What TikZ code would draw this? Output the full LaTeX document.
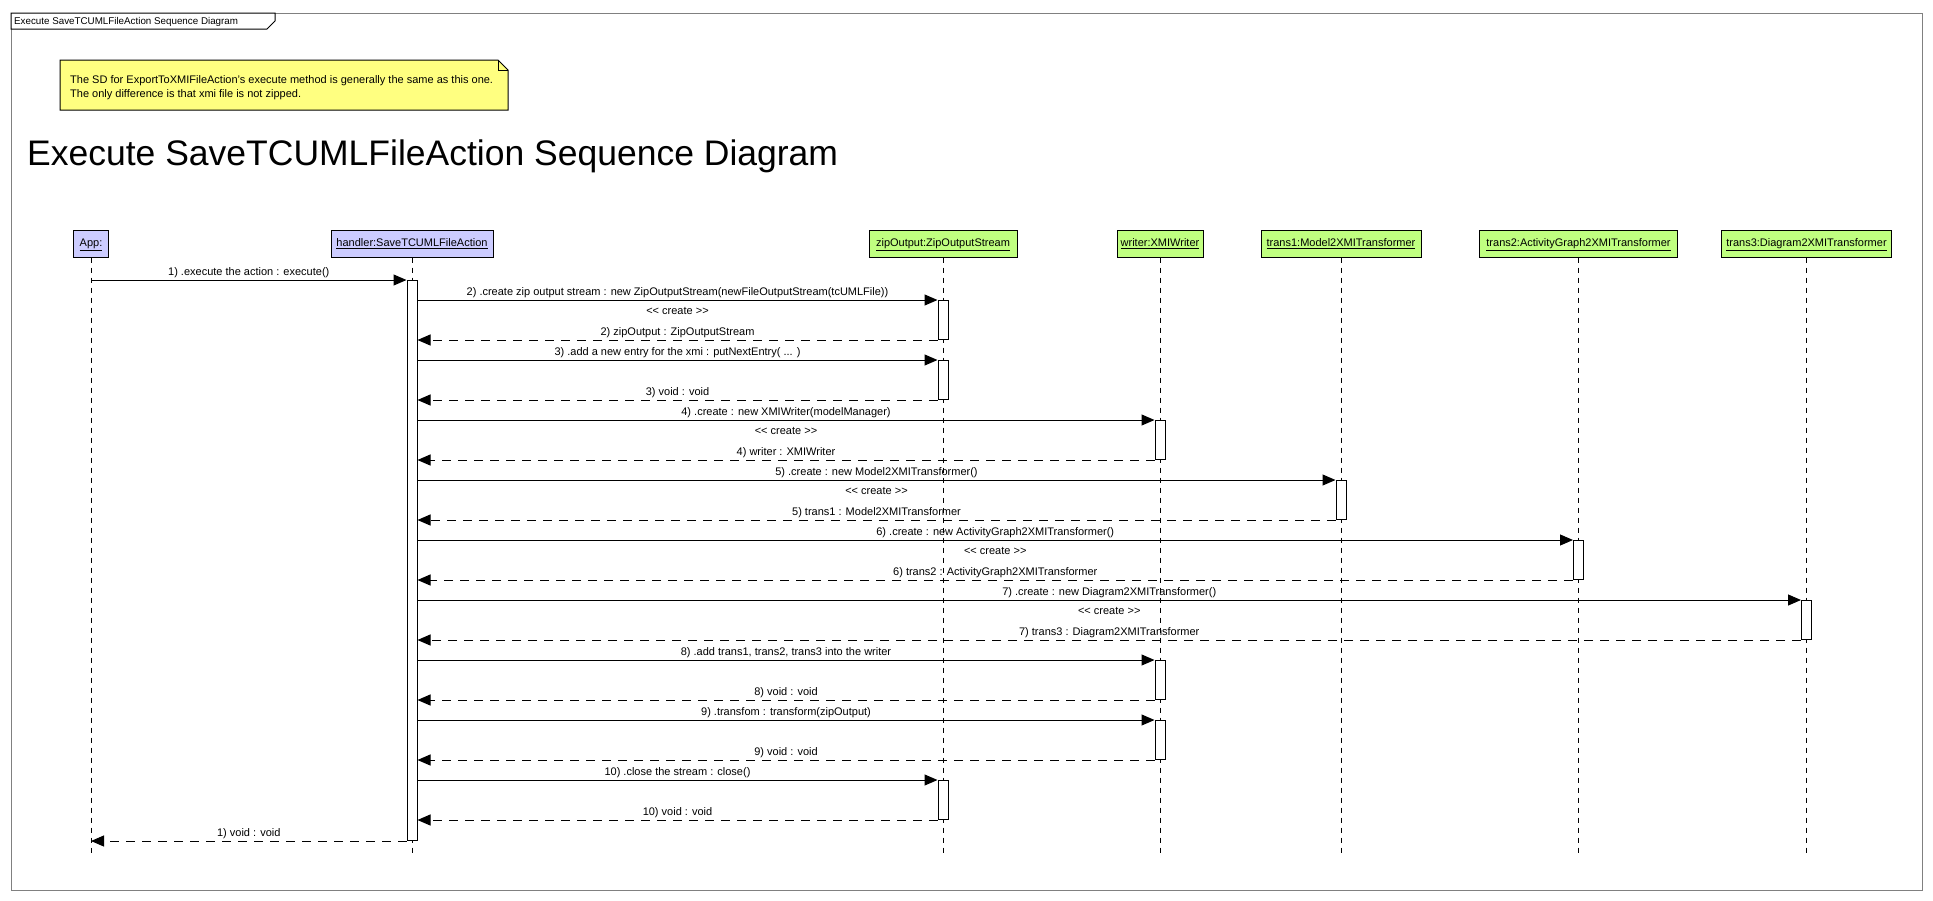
\documentclass[tikz,border=0pt]{standalone}
\usepackage{fontspec}
\setmainfont{Liberation Sans}
\usetikzlibrary{arrows.meta}
\definecolor{lav}{RGB}{204,204,255}
\definecolor{grn}{RGB}{192,255,128}
\definecolor{noteyel}{RGB}{255,255,128}
\definecolor{framegray}{RGB}{128,128,128}
\begin{document}
\begin{tikzpicture}[x=1pt,y=-1pt,
  every node/.style={font=\fontsize{11}{13}\selectfont},
  head/.style={draw, line width=1pt, minimum height=27pt, inner sep=0pt, text height=8pt, text depth=2.2pt},
  lifeline/.style={line width=1pt, dash pattern=on 5pt off 5pt},
  act/.style={draw, fill=white, line width=1pt, minimum width=10pt, inner sep=0pt, anchor=north},
  call/.style={line width=1pt, -{Triangle[length=13pt,width=11pt]}},
  ret/.style={call, dash pattern=on 9pt off 7pt},
  lbl/.style={inner sep=0pt, anchor=base},
  up/.style={lbl, yshift=4.5pt},
  down/.style={lbl, yshift=-14pt},
]
\useasboundingbox (0,0) rectangle (1933,900);
\fill[white] (0,0) rectangle (1933,900);

% frame
\draw[framegray, line width=1pt] (11,13) rectangle (1922,890);
\draw[line width=1pt, fill=white] (11,13) -- (275,13) -- (275,21) -- (267,29) -- (11,29) -- cycle;
\node[anchor=west, inner sep=0pt, font=\fontsize{9.8}{12}\selectfont] (tab) at (14,21.5) {Execute SaveTCUMLFileAction Sequence Diagram};

% note
\draw[line width=1pt, fill=noteyel] (60,60) -- (498,60) -- (508,70) -- (508,110) -- (60,110) -- cycle;
\draw[line width=1pt] (498,60) -- (498,70) -- (508,70);
\node[anchor=base west, inner sep=0pt] (note1) at (70,83) {The SD for ExportToXMIFileAction's execute method is generally the same as this one.};
\node[anchor=base west, inner sep=0pt] (note2) at (70,97) {The only difference is that xmi file is not zipped.};

% title
\node[anchor=base west, inner sep=0pt, font=\fontsize{35.5}{40}\selectfont] (title) at (27,165) {Execute SaveTCUMLFileAction Sequence Diagram};

% lifeline heads
\node[head, fill=lav, minimum width=35pt] (app) at (91,243.5) {\underline{App:}};
\node[head, fill=lav, minimum width=162pt] (handler) at (412,243.5) {\underline{handler:SaveTCUMLFileAction}};
\node[head, fill=grn, minimum width=148pt] (zip) at (943,243.5) {\underline{zipOutput:ZipOutputStream}};
\node[head, fill=grn, minimum width=86pt] (writer) at (1160,243.5) {\underline{writer:XMIWriter}};
\node[head, fill=grn, minimum width=160pt] (tr1) at (1341,243.5) {\underline{trans1:Model2XMITransformer}};
\node[head, fill=grn, minimum width=198pt] (tr2) at (1578.5,243.5) {\underline{trans2:ActivityGraph2XMITransformer}};
\node[head, fill=grn, minimum width=170pt] (tr3) at (1806.5,243.5) {\underline{trans3:Diagram2XMITransformer}};

% lifelines
\coordinate (bot) at (0,853);
\foreach \n in {app,handler,zip,writer,tr1,tr2,tr3}
  \draw[lifeline] (\n.south) -- (\n.south |- bot);

% activations
\node[act, minimum height=560pt] (hact) at (412,280) {};
\node[act, minimum height=39pt] (z1) at (943,300) {};
\node[act, minimum height=39pt] (z2) at (943,360) {};
\node[act, minimum height=39pt] (w1) at (1160,420) {};
\node[act, minimum height=39pt] (a1) at (1341,480) {};
\node[act, minimum height=39pt] (a2) at (1578.5,540) {};
\node[act, minimum height=39pt] (a3) at (1806.5,600) {};
\node[act, minimum height=39pt] (w2) at (1160,660) {};
\node[act, minimum height=39pt] (w3) at (1160,720) {};
\node[act, minimum height=39pt] (z3) at (943,780) {};

% messages
\draw[call] (app.south |- hact.north) -- node[up] (m1) {1) .execute the action : execute()} (hact.north west);

\draw[call] (hact.east |- z1.north) -- node[up] (m2) {2) .create zip output stream : new ZipOutputStream(newFileOutputStream(tcUMLFile))} node[down] (c2) {<{}< create >{}>} (z1.north west);
\draw[ret] (z1.south west) -- node[up] (r2) {2) zipOutput : ZipOutputStream} (hact.east |- z1.south);

\draw[call] (hact.east |- z2.north) -- node[up] (m3) {3) .add a new entry for the xmi : putNextEntry( ... )} (z2.north west);
\draw[ret] (z2.south west) -- node[up] (r3) {3) void : void} (hact.east |- z2.south);

\draw[call] (hact.east |- w1.north) -- node[up] (m4) {4) .create : new XMIWriter(modelManager)} node[down] (c4) {<{}< create >{}>} (w1.north west);
\draw[ret] (w1.south west) -- node[up] (r4) {4) writer : XMIWriter} (hact.east |- w1.south);

\draw[call] (hact.east |- a1.north) -- node[up] (m5) {5) .create : new Model2XMITransformer()} node[down] (c5) {<{}< create >{}>} (a1.north west);
\draw[ret] (a1.south west) -- node[up] (r5) {5) trans1 : Model2XMITransformer} (hact.east |- a1.south);

\draw[call] (hact.east |- a2.north) -- node[up] (m6) {6) .create : new ActivityGraph2XMITransformer()} node[down] (c6) {<{}< create >{}>} (a2.north west);
\draw[ret] (a2.south west) -- node[up] (r6) {6) trans2 : ActivityGraph2XMITransformer} (hact.east |- a2.south);

\draw[call] (hact.east |- a3.north) -- node[up] (m7) {7) .create : new Diagram2XMITransformer()} node[down] (c7) {<{}< create >{}>} (a3.north west);
\draw[ret] (a3.south west) -- node[up] (r7) {7) trans3 : Diagram2XMITransformer} (hact.east |- a3.south);

\draw[call] (hact.east |- w2.north) -- node[up] (m8) {8) .add trans1, trans2, trans3 into the writer} (w2.north west);
\draw[ret] (w2.south west) -- node[up] (r8) {8) void : void} (hact.east |- w2.south);

\draw[call] (hact.east |- w3.north) -- node[up] (m9) {9) .transfom : transform(zipOutput)} (w3.north west);
\draw[ret] (w3.south west) -- node[up] (r9) {9) void : void} (hact.east |- w3.south);

\draw[call] (hact.east |- z3.north) -- node[up] (m10) {10) .close the stream : close()} (z3.north west);
\draw[ret] (z3.south west) -- node[up] (r10) {10) void : void} (hact.east |- z3.south);

\draw[ret] (hact.south west) -- node[up] (r1) {1) void : void} (app.south |- hact.south);
\end{tikzpicture}
\end{document}
